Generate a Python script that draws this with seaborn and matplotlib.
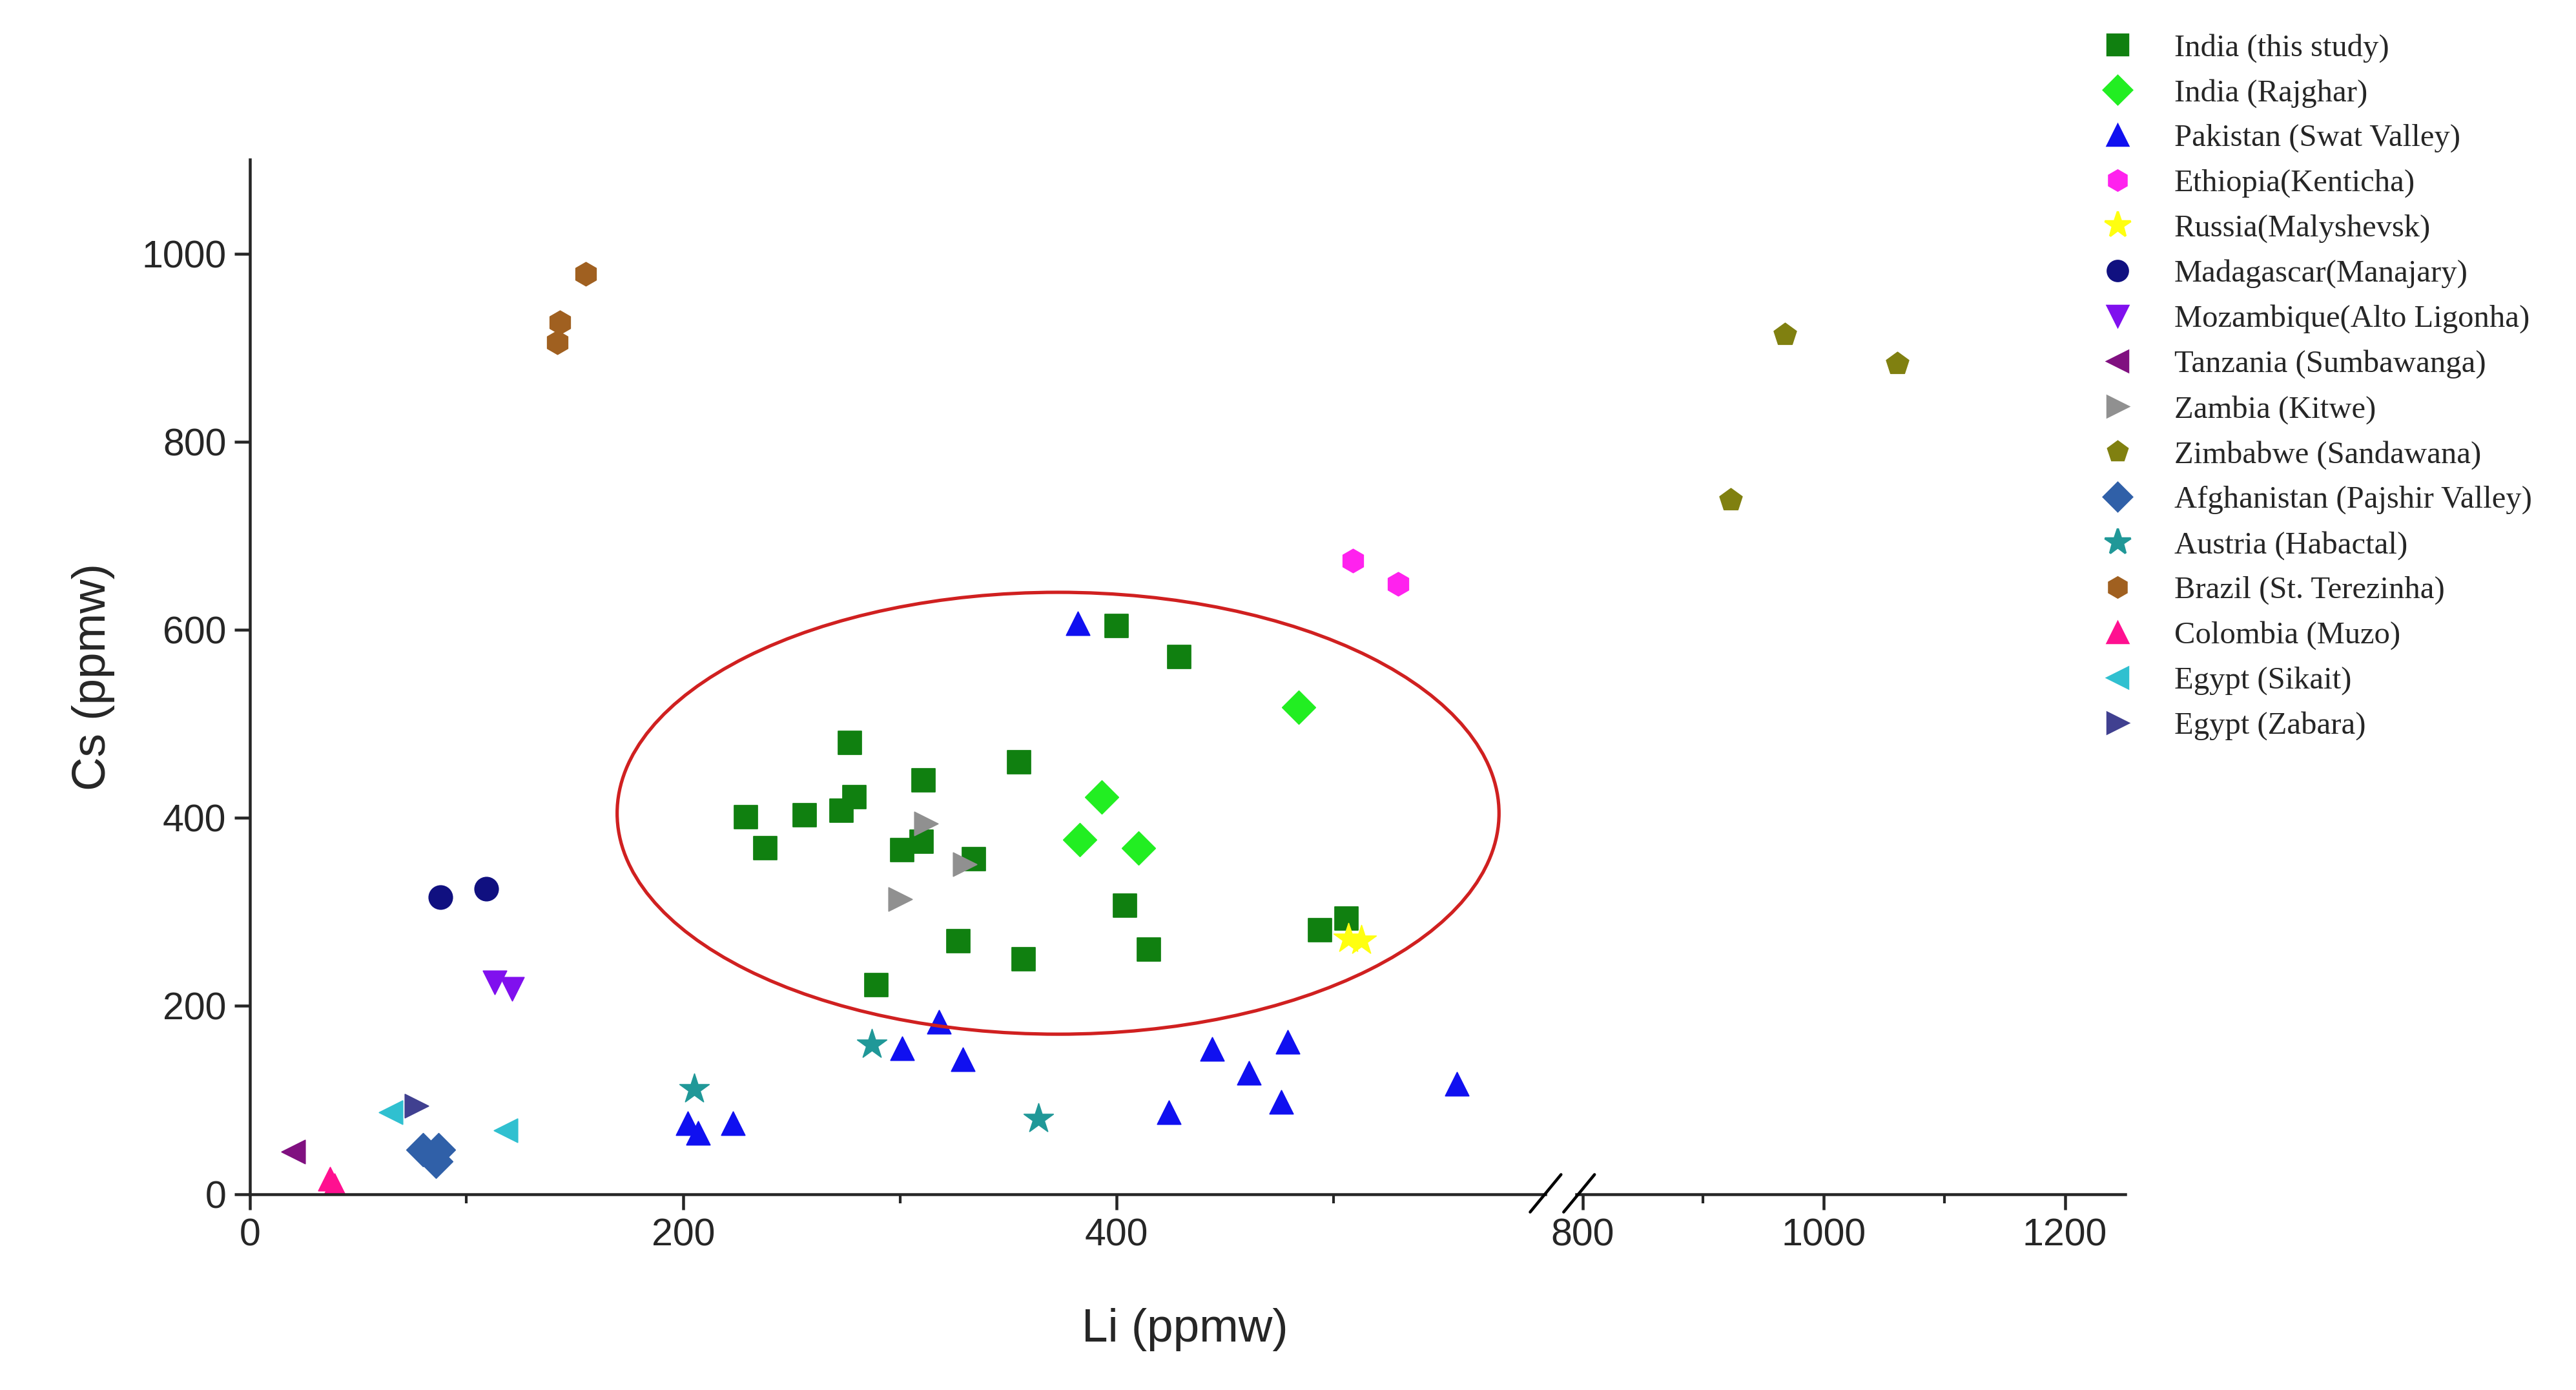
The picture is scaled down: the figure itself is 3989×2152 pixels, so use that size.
import matplotlib
matplotlib.use("Agg")
import matplotlib.pyplot as plt
import seaborn as sns
import pandas as pd
from matplotlib.patches import Ellipse
from matplotlib.ticker import MultipleLocator

sns.set_style("ticks")
plt.rcParams['font.family'] = ['Liberation Sans', 'DejaVu Sans']

groups = ["India (this study)", "India (Rajghar)", "Pakistan (Swat Valley)", "Ethiopia(Kenticha)",
          "Russia(Malyshevsk)", "Madagascar(Manajary)", "Mozambique(Alto Ligonha)", "Tanzania (Sumbawanga)",
          "Zambia (Kitwe)", "Zimbabwe (Sandawana)", "Afghanistan (Pajshir Valley)", "Austria (Habactal)",
          "Brazil (St. Terezinha)", "Colombia (Muzo)", "Egypt (Sikait)", "Egypt (Zabara)"]
colors = ["#108010", "#22ee22", "#1010f0", "#ff22ee", "#ffff10", "#101080", "#8010ee", "#801080",
          "#909090", "#808010", "#3060a8", "#209898", "#a06020", "#ff1090", "#30c0d0", "#404090"]
markers = ["s", "D", "^", "h", "*", "o", "v", "<", ">", "p", "D", "*", "h", "^", "<", ">"]

li = [
    [229, 238, 256, 273, 277, 279, 289, 301, 311, 310, 334, 355, 357, 327, 400, 429, 404, 415, 494, 506],
    [383, 393, 410, 484],
    [382, 202, 207, 223, 301, 318, 329, 424, 444, 461, 476, 479, 557],
    [509, 530],
    [507, 513],
    [88, 109],
    [113, 121],
    [20],
    [312, 330, 300],
    [923, 968, 1061],
    [80, 86, 87],
    [205, 287, 364],
    [142, 143, 155],
    [37, 39],
    [65, 118],
    [77],
]
cs = [
    [401, 368, 403, 408, 480, 422, 222, 366, 440, 375, 356, 459, 250, 269, 604, 571, 307, 260, 281, 293],
    [377, 422, 368, 518],
    [607, 75, 65, 75, 155, 183, 143, 87, 154, 129, 98, 162, 117],
    [674, 649],
    [272, 270],
    [316, 325],
    [225, 218],
    [45],
    [394, 351, 314],
    [738, 914, 883],
    [47, 35, 47],
    [112, 159, 80],
    [906, 927, 979],
    [16, 9],
    [87, 68],
    [94],
]

fig = plt.figure(figsize=(3989/250, 2152/250), dpi=250)
axL = fig.add_axes([0.097, 0.141, 0.503, 0.744])
axR = fig.add_axes([0.612, 0.141, 0.213, 0.744], sharey=axL)

handles = {}
for g, c, m, xs, ys in zip(groups, colors, markers, li, cs):
    df = pd.DataFrame({"Li": xs, "Cs": ys})
    ax = axR if min(xs) > 700 else axL
    s = 190 if m == "*" else 110
    sns.scatterplot(data=df, x="Li", y="Cs", ax=ax, color=c, marker=m, s=s, edgecolor=c, linewidth=0.5, legend=False)
    handles[g] = plt.Line2D([], [], linestyle="", marker=m, color=c, markersize=9 if m != "*" else 12)

axL.add_patch(Ellipse((373, 405), 407, 470, fill=False, edgecolor="#d02020", linewidth=1.5))

axL.set_xlim(0, 598)
axR.set_xlim(795, 1250)
axL.set_ylim(0, 1100)
axL.xaxis.set_minor_locator(MultipleLocator(100))
axR.xaxis.set_minor_locator(MultipleLocator(100))
axL.yaxis.set_major_locator(MultipleLocator(200))
axL.set_xticks([0, 200, 400])
axR.set_xticks([800, 1000, 1200])
for ax in (axL, axR):
    ax.tick_params(axis="both", which="major", labelsize=17, length=7, width=1.3, direction="out")
    ax.tick_params(axis="both", which="minor", length=4, width=1.2)
    ax.spines["top"].set_visible(False)
    ax.spines["right"].set_visible(False)
    ax.spines["bottom"].set_linewidth(1.3)
    ax.set_xlabel("")
    ax.set_ylabel("")
axL.spines["left"].set_linewidth(1.3)
axR.spines["left"].set_visible(False)
axR.tick_params(axis="y", which="both", left=False, labelleft=False)

axL.set_ylabel("Cs (ppmw)", fontsize=21, labelpad=12)
fig.text(0.46, 0.035, "Li (ppmw)", fontsize=21, ha="center")

# break marks
for xf in (0.600, 0.613):
    fig.add_artist(plt.Line2D([xf - 0.006, xf + 0.006], [0.128, 0.155], color="black", lw=1.3))

fig.legend([handles[g] for g in groups], groups, loc="upper left", bbox_to_anchor=(0.805, 0.985),
           frameon=False, prop={"family": "Liberation Serif", "size": 14}, labelspacing=0.52,
           handletextpad=0.8, borderaxespad=0)

fig.savefig("out.png", dpi=250)
